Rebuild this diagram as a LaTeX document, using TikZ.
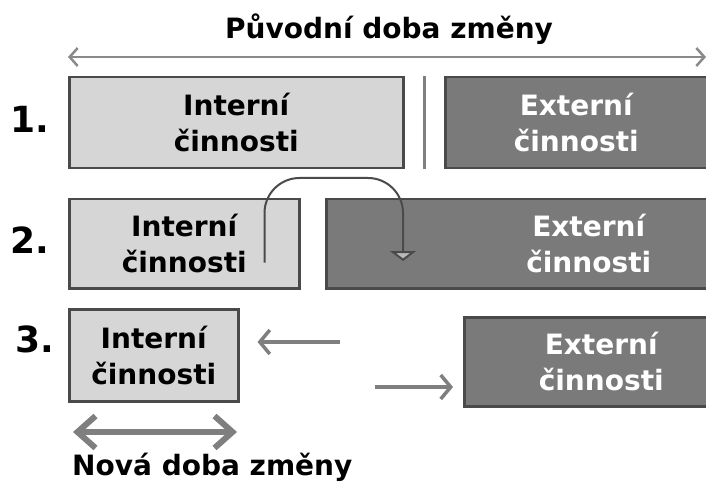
\documentclass[tikz,border=0pt]{standalone}
\usepackage{fontspec}
\setmainfont{DejaVu Sans}
\usetikzlibrary{arrows.meta,calc}
\definecolor{lightbox}{HTML}{D6D6D6}
\definecolor{darkbox}{HTML}{7A7A7A}
\definecolor{edgecol}{HTML}{4A4A4A}
\definecolor{arrowgray}{HTML}{7F7F7F}
\definecolor{thinarrow}{HTML}{8A8A8A}
\begin{document}
\begin{tikzpicture}[x=1pt,y=-1pt,
  box/.style={draw=edgecol, line width=2.5pt, inner sep=0pt, align=center,
    font=\fontsize{28}{36}\selectfont\bfseries, anchor=north west},
  lbox/.style={box, fill=lightbox, text=black},
  dbox/.style={box, fill=darkbox, text=white},
  num/.style={font=\fontsize{36}{40}\selectfont\bfseries, anchor=base, inner sep=0pt},
  lbl/.style={font=\fontsize{28}{30}\selectfont\bfseries, inner sep=0pt},
  toparrow/.style={draw=thinarrow, line width=2.5pt, {Straight Barb[length=8pt,width=18pt]}-{Straight Barb[length=8pt,width=18pt]}},
  midarrow/.style={draw=arrowgray, line width=3.5pt, -{Straight Barb[length=10pt,width=24pt]}},
  fatarrow/.style={draw=arrowgray, line width=6pt, {Straight Barb[length=18pt,width=32pt]}-{Straight Barb[length=18pt,width=32pt]}},
  curve/.style={draw=edgecol, line width=2pt, rounded corners=35pt,
    -{Triangle[open, length=10pt, width=26pt, fill=lightbox!70!darkbox]}},
  sep/.style={draw=arrowgray, line width=3pt}
]
\useasboundingbox[fill=white] (0,0) rectangle (706,486);

% title and top arrow
\node[lbl, anchor=base] (title) at (389,39) {Původní doba změny};
\coordinate (tl) at (68,57);
\coordinate (tr) at (706,57);
\draw[toparrow] (tl) -- (tr);

% row 1
\node[num] (n1) at (30,133) {1.};
\node[lbox, minimum width=334pt, minimum height=91pt] (i1) at (68,76) {Interní\\činnosti};
\node[dbox, minimum width=262pt, minimum height=91pt] (e1) at (444,76) {Externí\\činnosti};
\draw[sep] ($(i1.north east)!0.5!(e1.north west)$) -- ($(i1.south east)!0.5!(e1.south west)$);

% row 2
\node[num] (n2) at (30,253) {2.};
\node[lbox, minimum width=230pt, minimum height=89pt] (i2) at (68,198) {Interní\\činnosti};
\node[dbox, minimum width=525pt, minimum height=89pt] (e2) at (325,198) {Externí\\činnosti};
\coordinate (c2s) at ($(i2.south east)+(-36,-27)$);
\coordinate (c2e) at (403,261);
\draw[curve] (c2s) -- (c2s |- 0,178) -- (c2e |- 0,178) -- (c2e);

% row 3
\node[num] (n3) at (35,352) {3.};
\node[lbox, minimum width=169pt, minimum height=92pt] (i3) at (68,308) {Interní\\činnosti};
\node[dbox, minimum width=274pt, minimum height=89pt] (e3) at (463,316) {Externí\\činnosti};
\coordinate (a3l) at (340,342);
\draw[midarrow, shorten >=18pt] (a3l) -- (a3l -| i3.east);
\coordinate (a3r) at (375,387);
\draw[midarrow, shorten >=10pt] (a3r) -- (a3r -| e3.west);

% new time arrow
\coordinate (nl) at (73,432);
\coordinate (nr) at (237,432);
\draw[fatarrow] (nl) -- (nr);
\node[lbl, anchor=base west] (newt) at (72,475) {Nová doba změny};
\end{tikzpicture}
\end{document}
